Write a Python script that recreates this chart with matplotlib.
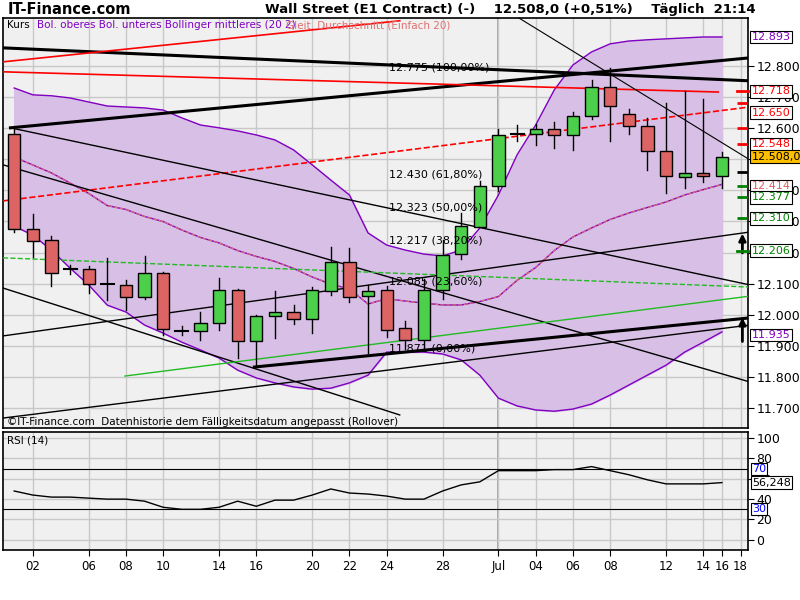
import numpy as np
import matplotlib.pyplot as plt
from matplotlib.patches import Rectangle

# daily candles (index = trading day)
opens = [12581, 12276, 12240, 12147, 12147, 12099, 12096, 12057, 12134, 11948,
         11948, 11973, 12080, 11916, 11996, 12009, 11987, 12077, 12170, 12061,
         12080, 11957, 11919, 12080, 12195, 12283, 12414, 12581, 12581, 12597,
         12578, 12639, 12732, 12646, 12607, 12527, 12443, 12456, 12446]
closes = [12276, 12237, 12134, 12150, 12099, 12099, 12057, 12134, 11954, 11951,
          11973, 12080, 11916, 11996, 12009, 11987, 12080, 12170, 12057, 12077,
          11951, 11919, 12080, 12192, 12285, 12414, 12578, 12584, 12597, 12578,
          12639, 12732, 12671, 12607, 12527, 12446, 12456, 12446, 12508]
highs = [12600, 12324, 12253, 12160, 12157, 12183, 12112, 12189, 12138, 11965,
         12010, 12118, 12083, 12000, 12076, 12030, 12090, 12218, 12215, 12095,
         12093, 11980, 12115, 12240, 12327, 12430, 12597, 12610, 12613, 12620,
         12652, 12755, 12793, 12660, 12633, 12680, 12720, 12693, 12523]
lows = [12265, 12186, 12093, 12130, 12070, 12047, 12015, 12050, 11935, 11935,
        11920, 11950, 11861, 11832, 11925, 11970, 11940, 12065, 12040, 11877,
        11930, 11890, 11887, 12050, 12180, 12298, 12398, 12560, 12545, 12537,
        12530, 12630, 12560, 12580, 12465, 12392, 12406, 12427, 12406]

upper = [12729, 12707, 12704, 12697, 12684, 12671, 12668, 12665, 12658, 12633,
         12610, 12601, 12591, 12578, 12562, 12530, 12482, 12433, 12385, 12263,
         12224, 12208, 12195, 12189, 12208, 12279, 12385, 12514, 12610, 12723,
         12803, 12845, 12871, 12880, 12884, 12887, 12890, 12893, 12893]
lower = [12285, 12256, 12208, 12150, 12096, 12031, 12009, 11967, 11941, 11912,
         11887, 11861, 11822, 11797, 11781, 11768, 11761, 11764, 11781, 11806,
         11880, 11880, 11880, 11874, 11855, 11806, 11732, 11707, 11694, 11690,
         11697, 11713, 11742, 11774, 11806, 11838, 11880, 11912, 11945]
rsi = [48, 44, 42, 42, 41, 40, 40, 38, 32, 30, 30, 32, 38, 33, 39, 39, 44, 50, 46, 45,
       43, 40, 40, 48, 54, 57, 68, 68, 68, 69, 69, 72, 68, 64, 59, 55, 55, 55, 56.248]

tick_pos = [1, 4, 6, 8, 11, 13, 16, 18, 20, 23, 26, 28, 30, 32, 35, 37, 38, 39]
tick_lab = ['02', '06', '08', '10', '14', '16', '20', '22', '24', '28', 'Jul',
            '04', '06', '08', '12', '14', '16', '18']

# trend lines: (x0, y0, x1, y1, colour, width, style)
trend = [
    (-0.6, 12858, 39.5, 12752, 'black', 2.2, '-'),
    (-0.2, 12601, 39.5, 12826, 'black', 2.2, '-'),
    (-0.6, 12813, 20.7, 12945, 'red', 1.2, '-'),
    (-0.6, 12781, 37.8, 12716, 'red', 1.2, '-'),
    (-0.6, 12366, 39.5, 12668, 'red', 1.2, '--'),
    (-0.2, 12601, 39.5, 12096, 'black', 1.0, '-'),
    (-0.6, 12482, 39.5, 11784, 'black', 1.0, '-'),
    (-0.6, 12086, 20.7, 11678, 'black', 1.0, '-'),
    (-0.6, 11668, 39.5, 11967, 'black', 1.0, '-'),
    (-0.6, 11932, 39.5, 12266, 'black', 1.0, '-'),
    (27.1, 12954, 39.5, 12498, 'black', 0.8, '-'),
    (12.9, 11832, 39.5, 11990, 'black', 2.2, '-'),
    (5.95, 11803, 39.5, 12060, '#22bb22', 1.0, '-'),
    (-0.6, 12183, 39.5, 12089, '#22bb22', 1.0, '--'),
]

fib_vals = [12775, 12430, 12323, 12217, 12085, 11871]
fib_txt = ['12.775 (100,00%)', '12.430 (61,80%)', '12.323 (50,00%)',
           '12.217 (38,20%)', '12.085 (23,60%)', '11.871 (0,00%)']

# right side labels: (value, text, text colour, face)
side = [(12893, '12.893', '#8000c0', 'white'), (12718, '12.718', 'red', 'white'),
        (12650, '12.650', 'red', 'white'), (12548, '12.548', 'red', 'white'),
        (12508, '12.508,0', 'black', '#ffc000'), (12414, '12.414', '#e06060', 'white'),
        (12377, '12.377', 'green', 'white'), (12310, '12.310', 'green', 'white'),
        (12206, '12.206', 'green', 'white'), (11935, '11.935', '#8000c0', 'white')]

# short stubs at the right edge: (value, colour, style)
stubs = [(12718, 'red', '-'), (12680, 'red', '--'), (12600, 'red', '--'),
         (12548, 'red', '--'), (12460, 'black', '--'), (12414, 'green', '--'),
         (12377, 'green', '--'), (12310, 'green', '--'), (12206, 'green', '-')]

fig = plt.figure(figsize=(8, 6), dpi=100)
fig.patch.set_facecolor('white')
ax = fig.add_axes([3/800, 172/600, 745/800, 410/600])
rx = fig.add_axes([3/800, 50/600, 745/800, 118/600])
n = len(opens)
idx = np.arange(n)

for a in (ax, rx):
    a.set_facecolor('#f0f0f0')
    a.set_xlim(-0.6, 39.4)
    a.set_xticks(tick_pos)
    a.grid(True, color='#c8c8c8', lw=1)
    a.set_axisbelow(True)
    a.yaxis.tick_right()
    a.tick_params(axis='y', length=4, labelsize=9, pad=2)
    a.axvline(26, color='#999999', lw=1.2, zorder=0.5)
    for s in a.spines.values():
        s.set_linewidth(1.2)

ax.set_ylim(11636, 12954)
ax.set_yticks(range(11700, 12900, 100))
ax.set_yticklabels([f'{v // 1000}.{v % 1000:03d}' for v in range(11700, 12900, 100)])
ax.tick_params(axis='x', labelbottom=False, length=0)

ax.fill_between(idx, lower, upper, color='#d8bfe6', zorder=1)
ax.plot(idx, upper, color='#8000c0', lw=1, zorder=2)
ax.plot(idx, lower, color='#8000c0', lw=1, zorder=2)
mid = (np.array(upper) + np.array(lower)) / 2
ax.plot(idx, mid, color='#8000c0', lw=1, zorder=2)
ax.plot(idx, mid, color='#e07070', lw=0.8, ls='--', zorder=2)

for x0, y0, x1, y1, c, w, st in trend:
    ax.plot([x0, x1], [y0, y1], color=c, lw=w, ls=st, zorder=3)

for i in range(n):
    o, c = opens[i], closes[i]
    col = '#4cd04c' if c >= o else '#dd6464'
    ax.plot([i, i], [lows[i], highs[i]], color='black', lw=1, zorder=4)
    h = abs(c - o)
    if h < 8:
        ax.plot([i - 0.35, i + 0.35], [o, o], color='black', lw=1.5, zorder=5)
    else:
        ax.add_patch(Rectangle((i - 0.33, min(o, c)), 0.66, h, facecolor=col,
                               edgecolor='black', lw=1, zorder=5))

for v, t in zip(fib_vals, fib_txt):
    ax.text(20.1, v + 5, t, fontsize=8, va='bottom', zorder=6)

for v, c, st in stubs:
    ax.plot([38.8, 39.4], [v, v], color=c, lw=2, ls=st, zorder=6, clip_on=False)
ax.annotate('', xy=(39.1, 12270), xytext=(39.1, 12190),
            arrowprops=dict(arrowstyle='-|>', color='black', lw=2))
ax.annotate('', xy=(39.1, 12000), xytext=(39.1, 11905),
            arrowprops=dict(arrowstyle='-|>', color='black', lw=2))

for v, t, c, f in side:
    ax.text(1.005, v, t, transform=ax.get_yaxis_transform(), fontsize=8, color=c,
            va='center', ha='left', zorder=10,
            bbox=dict(boxstyle='square,pad=0.12', fc=f, ec='black', lw=0.8))

ax.text(0.005, 0.995, 'Kurs', transform=ax.transAxes, fontsize=7.5, va='top')
ax.text(0.045, 0.995, 'Bol. oberes Bol. unteres Bollinger mittleres (20 2)',
        transform=ax.transAxes, fontsize=7.5, va='top', color='#8000c0')
ax.text(0.38, 0.995, 'Gleit. Durchschnitt (Einfach 20)', transform=ax.transAxes,
        fontsize=7.5, va='top', color='#e07070')
ax.text(0.005, 0.003, '©IT-Finance.com  Datenhistorie dem Fälligkeitsdatum angepasst (Rollover)',
        transform=ax.transAxes, fontsize=7.5, va='bottom')

rx.set_ylim(-10, 106)
rx.set_yticks([0, 20, 40, 60, 80, 100])
rx.set_xticklabels(tick_lab, fontsize=8.5)
rx.tick_params(axis='x', length=4)
rx.axhline(70, color='black', lw=0.8)
rx.axhline(30, color='black', lw=0.8)
rx.plot(idx, rsi, color='black', lw=1)
for v, t, c in [(70, '70', 'blue'), (30, '30', 'blue'), (56.248, '56,248', 'black')]:
    rx.text(1.005, v, t, transform=rx.get_yaxis_transform(), fontsize=8, color=c,
            va='center', ha='left', zorder=10,
            bbox=dict(boxstyle='square,pad=0.1', fc='white', ec='black', lw=0.8))
rx.text(0.005, 0.97, 'RSI (14)', transform=rx.transAxes, fontsize=7.5, va='top')

fig.text(8/800, 1 - 9/600, 'IT-Finance.com', fontsize=10.5, fontweight='bold', va='center')
fig.text(265/800, 1 - 9/600, 'Wall Street (E1 Contract) (-)    12.508,0 (+0,51%)    Täglich  21:14',
         fontsize=9.5, fontweight='bold', va='center')

fig.savefig('out.png', dpi=100)
